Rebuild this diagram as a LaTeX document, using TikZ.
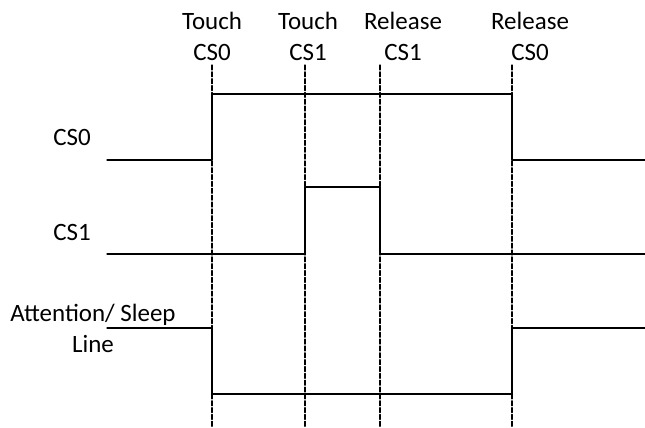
\documentclass[tikz,border=0pt]{standalone}
\usepackage{fontspec}
\setmainfont{Carlito}
\usepackage{tikz}
\usepackage{tkz-euclide}
\usetikzlibrary{calc}

\begin{document}
\begin{tikzpicture}[lbl/.style={align=center,inner sep=0pt,font=\fontsize{14.2}{17.6}\selectfont},
    sig/.style={line width=0.68pt},
    mark line/.style={line width=0.68pt,dash pattern=on 2.8pt off 1.1pt}]
    \useasboundingbox (0,0) rectangle (12.9,8.54);
    % CS0
    \tkzDefPoint(2.14,5.34){a_1}
    \tkzDefPoint(4.24,5.34){a_2}
    \tkzDefPoint(4.24,6.66){a_3}
    \tkzDefPoint(10.24,6.66){a_4}
    \tkzDefPoint(10.24,5.34){a_5}
    \tkzDefPoint(12.9,5.34){a_6}
    % CS1
    \tkzDefPoint(2.14,3.46){b_1}
    \tkzDefPoint(6.10,3.46){b_2}
    \tkzDefPoint(6.10,4.80){b_3}
    \tkzDefPoint(7.60,4.80){b_4}
    \tkzDefPoint(7.60,3.46){b_5}
    \tkzDefPoint(12.9,3.46){b_6}
    % attention / sleep
    \tkzDefPoint(2.14,1.98){s_1}
    \tkzDefPoint(4.24,1.98){s_2}
    \tkzDefPoint(4.24,0.66){s_3}
    \tkzDefPoint(10.24,0.66){s_4}
    \tkzDefPoint(10.24,1.98){s_5}
    \tkzDefPoint(12.9,1.98){s_6}
    % event markers
    \tkzDefPoint(4.24,7.24){t_1}
    \tkzDefPoint(6.10,7.24){t_2}
    \tkzDefPoint(7.60,7.24){t_3}
    \tkzDefPoint(10.24,7.24){t_4}
    \tkzDefPoint(4.24,0){u_1}
    \tkzDefPoint(6.10,0){u_2}
    \tkzDefPoint(7.60,0){u_3}
    \tkzDefPoint(10.24,0){u_4}
    \tkzDrawSegments[mark line](t_1,u_1 t_2,u_2 t_3,u_3 t_4,u_4)
    \tkzDrawSegments[sig](a_1,a_2 a_2,a_3 a_3,a_4 a_4,a_5 a_5,a_6)
    \tkzDrawSegments[sig](b_1,b_2 b_2,b_3 b_3,b_4 b_4,b_5 b_5,b_6)
    \tkzDrawSegments[sig](s_1,s_2 s_2,s_3 s_3,s_4 s_4,s_5 s_5,s_6)
    % labels
    \node[lbl] (touch0) at (4.24,7.81) {Touch\\CS0};
    \node[lbl] (touch1) at (6.16,7.81) {Touch\\CS1};
    \node[lbl] (rel1) at (8.06,7.81) {Release\\CS1};
    \node[lbl] (rel0) at (10.60,7.81) {Release\\CS0};
    \node[lbl] (cs0) at (1.44,5.80) {CS0};
    \node[lbl] (cs1) at (1.44,3.90) {CS1};
    \node[lbl] (att) at (1.86,1.97) {Attention/ Sleep\\Line};
\end{tikzpicture}
\end{document}
